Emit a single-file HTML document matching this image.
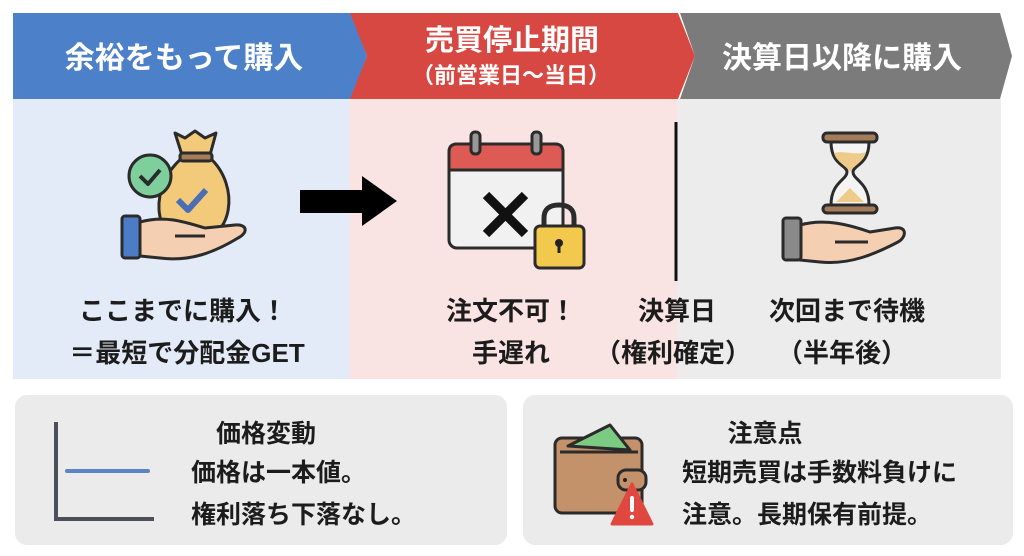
<!DOCTYPE html>
<html><head><meta charset="utf-8"><style>
html,body{margin:0;padding:0;background:#fff;}
svg{display:block}
text{font-family:"Liberation Sans","Noto Sans CJK JP",sans-serif;font-weight:bold;}
</style></head><body>
<svg width="1024" height="556" viewBox="0 0 1024 556" xmlns="http://www.w3.org/2000/svg">
<rect width="1024" height="556" fill="#fff"/>
<rect x="13" y="99" width="336" height="280" fill="#e2ebf7"/>
<rect x="349" y="99" width="328" height="280" fill="#fae3e3"/>
<rect x="677" y="99" width="324" height="280" fill="#ececec"/>
<polygon points="680,13 1000,13 1012,56 1000,99 680,99 695,56" fill="#7b7b7b"/>
<polygon points="349,13 678,13 695,56 678,99 349,99 367,56" fill="#d84843"/>
<polygon points="13,13 350,13 367,56 350,99 13,99" fill="#4c80c8"/>
<text x="184" y="68" font-size="30" fill="#fff" text-anchor="middle">余裕をもって購入</text>
<text x="512" y="50" font-size="29" fill="#fff" text-anchor="middle">売買停止期間</text>
<text x="511" y="83" font-size="22" fill="#fff" text-anchor="middle">（前営業日〜当日）</text>
<text x="842" y="68" font-size="30" fill="#fff" text-anchor="middle">決算日以降に購入</text>

<g stroke="#2b2b2b" stroke-width="3" stroke-linejoin="round">
<path d="M175,133 L185,138 L195,131 L205,138 L216,133 L210,155 L182,155 Z" fill="#f3c97a"/>
<path d="M182,158 C150,185 150,240 190,242 C235,242 240,185 210,158 Z" fill="#f3c97a"/>
<rect x="180" y="153" width="32" height="8" rx="3" fill="#a57c5a"/>
<circle cx="150" cy="176" r="21" fill="#7fcf9c"/>
<path d="M140,176 L148,184 L160,170" fill="none" stroke-width="4"/>
<path d="M178,200 L188,210 L206,190" fill="none" stroke="#4a6fb5" stroke-width="6"/>
<path d="M140,222 C165,215 185,222 205,228 L235,225 C248,224 248,233 238,238 C215,252 190,262 160,258 L140,256 Z" fill="#f5cfb2"/>
<path d="M175,236 L205,236" fill="none"/>
<rect x="122" y="216" width="18" height="42" rx="3" fill="#4d7cc7"/>
</g>
<rect x="300" y="190" width="64" height="23" fill="#000"/>
<polygon points="362,176 397,201 362,226" fill="#000"/>

<g stroke="#2b2b2b" stroke-width="3" stroke-linejoin="round">
<rect x="449" y="144" width="114" height="104" rx="8" fill="#f1f1f1"/>
<path d="M449,170 L449,152 Q449,144 457,144 L555,144 Q563,144 563,152 L563,170 Z" fill="#de5a55"/>
<rect x="471" y="132" width="9" height="22" rx="4" fill="#999"/>
<rect x="532" y="132" width="9" height="22" rx="4" fill="#999"/>
<path d="M486,195 L525,234 M525,195 L486,234" stroke="#111" stroke-width="9" fill="none"/>
<path d="M544,228 L544,218 Q544,205 559,205 Q574,205 574,218 L574,228" fill="none" stroke-width="5"/>
<rect x="535" y="226" width="49" height="42" rx="5" fill="#f2c94c"/>
<circle cx="559" cy="243" r="4" fill="#222" stroke="none"/>
<rect x="557.5" y="244" width="3" height="9" fill="#222" stroke="none"/>
</g>
<line x1="676" y1="122" x2="676" y2="281" stroke="#111" stroke-width="3"/>

<g stroke="#2b2b2b" stroke-width="3" stroke-linejoin="round">
<path d="M831,142 C831,165 847,165 847,172 C847,180 831,182 831,205 L869,205 C869,182 853,180 853,172 C853,165 869,165 869,142 Z" fill="#f4f4f4"/>
<path d="M834,153 C845,150 855,156 866,152 C864,162 853,166 850,172 C847,166 836,162 834,153Z" fill="#efcb8a" stroke="none"/>
<path d="M836,202 L850,188 L864,202 Z" fill="#efcb8a" stroke="none"/>
<rect x="823" y="133" width="54" height="9" rx="4" fill="#a57c5a"/>
<rect x="823" y="205" width="54" height="8" rx="4" fill="#a57c5a"/>
<path d="M800,225 C825,218 850,225 870,232 L895,228 C908,226 906,238 898,242 C875,254 850,265 820,262 L800,260 Z" fill="#f5cfb2"/>
<path d="M835,242 L868,242" fill="none"/>
<rect x="783" y="218" width="18" height="42" rx="3" fill="#8a8a8a"/>
</g>

<g font-size="26" fill="#1c1c1c" text-anchor="middle">
<text x="183" y="320">ここまでに購入！</text>
<text x="187" y="362">＝最短で分配金GET</text>
<text x="511" y="320">注文不可！</text>
<text x="511" y="362">手遅れ</text>
<text x="677" y="320">決算日</text>
<text x="673" y="362">（権利確定）</text>
<text x="847" y="320">次回まで待機</text>
<text x="842" y="362">（半年後）</text>
</g>

<rect x="15" y="395" width="492" height="150" rx="12" fill="#ebebeb"/>
<rect x="523" y="395" width="490" height="150" rx="12" fill="#ebebeb"/>
<path d="M56,422 L56,519 L154,519" fill="none" stroke="#4a4f5a" stroke-width="4"/>
<line x1="67" y1="471" x2="148" y2="471" stroke="#5b84c0" stroke-width="4" stroke-linecap="round"/>
<g font-size="25" fill="#1c1c1c">
<text x="266" y="442" text-anchor="middle">価格変動</text>
<text x="191" y="481">価格は一本値。</text>
<text x="191" y="523">権利落ち下落なし。</text>
<text x="765" y="442" text-anchor="middle">注意点</text>
<text x="682" y="481">短期売買は手数料負けに</text>
<text x="682" y="523">注意。長期保有前提。</text>
</g>
<g stroke="#2b2b2b" stroke-width="3" stroke-linejoin="round">
<rect x="555" y="438" width="87" height="75" rx="7" fill="#c3926a"/>
<path d="M568,446 L610,425 L630,450 Z" fill="#7ccb82"/>
<path d="M560,452 L638,452" fill="none"/>
<rect x="618" y="470" width="28" height="20" rx="8" fill="#c3926a"/>
<circle cx="625" cy="480" r="2" fill="#222" stroke="none"/>
</g>
<polygon points="632,484 652,524 612,524" fill="#e0483f" stroke="#e0483f" stroke-width="3" stroke-linejoin="round"/>
<rect x="630" y="496" width="4" height="16" rx="2" fill="#fff"/>
<circle cx="632" cy="517" r="2.2" fill="#fff"/>
</svg>
</body></html>
